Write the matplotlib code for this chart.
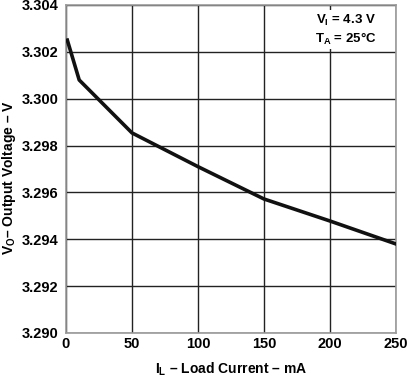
import matplotlib
matplotlib.use("Agg")
import matplotlib.pyplot as plt

# load current (mA) vs output voltage (V)
load_current = [1, 10, 50, 100, 150, 200, 250]
output_voltage = [3.3025, 3.3008, 3.29854, 3.29710, 3.29572, 3.29478, 3.29380]

x_ticks = [0, 50, 100, 150, 200, 250]
y_ticks = [3.290, 3.292, 3.294, 3.296, 3.298, 3.300, 3.302, 3.304]

plt.rcParams['font.family'] = ['Liberation Sans', 'DejaVu Sans']
plt.rcParams['font.weight'] = 'bold'
plt.rcParams['mathtext.fontset'] = 'custom'
plt.rcParams['mathtext.rm'] = 'Liberation Sans:bold'
plt.rcParams['mathtext.it'] = 'Liberation Sans:bold'
plt.rcParams['mathtext.bf'] = 'Liberation Sans:bold'
plt.rcParams['mathtext.default'] = 'rm'

W, H = 407, 377
fig = plt.figure(figsize=(W / 100, H / 100), dpi=100)
ax = fig.add_axes([66 / W, (H - 333) / H, (396 - 66) / W, (333 - 5) / H])

ax.plot(load_current, output_voltage, color='#111111', lw=2.6, zorder=3)

ax.set_xlim(0, 250)
ax.set_ylim(3.290, 3.304)
ax.set_xticks(x_ticks)
ax.set_yticks(y_ticks)
ax.set_yticklabels([f"{v:.3f}" for v in y_ticks])
ax.grid(True, color='#222222', lw=1.0)
ax.set_axisbelow(True)
ax.tick_params(length=0, labelsize=10.5)
ax.tick_params(axis='y', pad=5.5)
ax.tick_params(axis='x', pad=3)
for lab in ax.get_xticklabels() + ax.get_yticklabels():
    lab.set_fontweight('bold')
for s in ax.spines.values():
    s.set_color('#999999')
    s.set_linewidth(1.2)

ax.set_xlabel(r'$I_L$ – Load Current – mA', fontsize=10, fontweight='bold', labelpad=7)
ax.set_ylabel(r'$V_O$– Output Voltage – V', fontsize=10, fontweight='bold',
              va='center', ha='center')
ax.yaxis.set_label_coords(-0.172, 0.475)

ax.text(0.847, 0.925, '$V_I$ = 4.3 V\n$T_A$ = 25°C', transform=ax.transAxes,
        ha='center', va='center', fontsize=9.5, fontweight='bold', linespacing=1.25,
        bbox=dict(facecolor='white', edgecolor='none', pad=2), zorder=4)

fig.savefig('out.png', dpi=100)
